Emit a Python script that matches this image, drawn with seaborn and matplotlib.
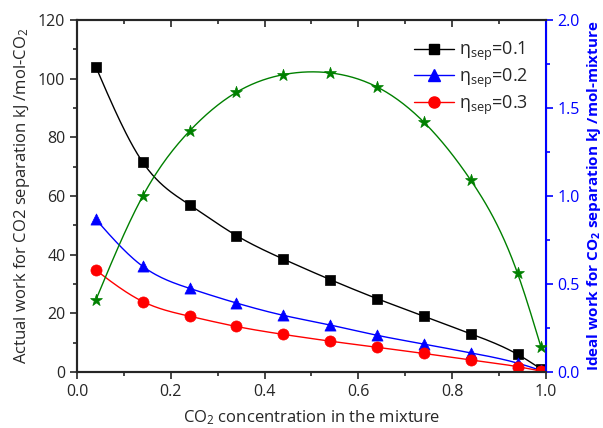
import numpy as np
import matplotlib
matplotlib.use("Agg")
import matplotlib.pyplot as plt
from matplotlib.lines import Line2D
from matplotlib.ticker import MultipleLocator, FormatStrFormatter
import seaborn as sns

# CO2 mole fraction in the mixture
co2_frac = [0.04, 0.14, 0.24, 0.34, 0.44, 0.54, 0.64, 0.74, 0.84, 0.94, 0.99]

# actual work (kJ/mol-CO2), left axis
work_01 = [104.0, 71.5, 57.0, 46.5, 38.5, 31.5, 25.0, 19.0, 13.0, 6.0, 1.0]
work_02 = [52.0, 36.0, 28.5, 23.5, 19.3, 16.0, 12.5, 9.5, 6.5, 3.0, 0.5]
work_03 = [34.7, 24.0, 19.0, 15.5, 12.8, 10.5, 8.4, 6.3, 4.1, 1.8, 0.3]

# ideal work (kJ/mol-mixture), right axis
ideal_work = [0.41, 1.0, 1.37, 1.59, 1.69, 1.70, 1.62, 1.42, 1.09, 0.56, 0.14]

labels = [r"$\eta_{sep}$=0.1", r"$\eta_{sep}$=0.2", r"$\eta_{sep}$=0.3"]


def smooth(x, y, n=25):
    # natural cubic spline through the points, only for the drawn connecting line
    x = np.asarray(x, float)
    y = np.asarray(y, float)
    npts = len(x)
    h = np.diff(x)
    A = np.zeros((npts, npts))
    b = np.zeros(npts)
    A[0, 0] = A[-1, -1] = 1
    for i in range(1, npts - 1):
        A[i, i - 1] = h[i - 1]
        A[i, i] = 2 * (h[i - 1] + h[i])
        A[i, i + 1] = h[i]
        b[i] = 6 * ((y[i + 1] - y[i]) / h[i] - (y[i] - y[i - 1]) / h[i - 1])
    M = np.linalg.solve(A, b)
    xs, ys = [], []
    for k in range(npts - 1):
        xx = np.linspace(x[k], x[k + 1], n, endpoint=False)
        a = x[k + 1] - xx
        c = xx - x[k]
        yy = (M[k] * a ** 3 + M[k + 1] * c ** 3) / (6 * h[k]) \
            + (y[k] / h[k] - M[k] * h[k] / 6) * a + (y[k + 1] / h[k] - M[k + 1] * h[k] / 6) * c
        xs.extend(xx)
        ys.extend(yy)
    xs.append(x[-1])
    ys.append(y[-1])
    return np.array(xs), np.array(ys)


sns.set_style("ticks")
plt.rcParams["font.family"] = ["Open Sans", "DejaVu Sans"]
plt.rcParams["mathtext.fontset"] = "dejavusans"
plt.rcParams["mathtext.default"] = "regular"

fig = plt.figure(figsize=(6.03, 4.28), dpi=100)
ax = fig.add_axes([0.128, 0.131, 0.777, 0.822])
ax2 = ax.twinx()

series = [(work_01, "black", "s", 7), (work_02, "blue", "^", 8), (work_03, "red", "o", 8)]
handles = []
for (vals, col, mk, ms), lab in zip(series, labels):
    sx, sy = smooth(co2_frac, vals)
    sns.lineplot(x=sx, y=sy, ax=ax, color=col, lw=1, sort=False, estimator=None)
    sns.scatterplot(x=co2_frac, y=vals, ax=ax, color=col, marker=mk, s=ms ** 2,
                    edgecolor=col, linewidth=0.5, zorder=3)
    handles.append(Line2D([], [], color=col, marker=mk, ms=ms, lw=1))

gx, gy = smooth(co2_frac, ideal_work)
sns.lineplot(x=gx, y=gy, ax=ax2, color="green", lw=1, sort=False, estimator=None)
sns.scatterplot(x=co2_frac, y=ideal_work, ax=ax2, color="green", marker="*", s=80,
                edgecolor="green", linewidth=0.5, zorder=3)

ax.set_xlim(0, 1.0)
ax.set_ylim(0, 120)
ax2.set_ylim(0, 2.0)

ax.xaxis.set_major_locator(MultipleLocator(0.2))
ax.xaxis.set_minor_locator(MultipleLocator(0.1))
ax.xaxis.set_major_formatter(FormatStrFormatter("%.1f"))
ax.yaxis.set_major_locator(MultipleLocator(20))
ax.yaxis.set_minor_locator(MultipleLocator(10))
ax2.yaxis.set_major_locator(MultipleLocator(0.5))
ax2.yaxis.set_minor_locator(MultipleLocator(0.25))
ax2.yaxis.set_major_formatter(FormatStrFormatter("%.1f"))

ax.tick_params(axis="both", which="major", direction="out", length=5, width=1.2, labelsize=11.5)
ax.tick_params(axis="both", which="minor", direction="out", length=3, width=1.2)
ax.tick_params(axis="x", which="both", top=True)
ax2.tick_params(axis="y", which="major", direction="out", length=5, width=1.2, labelsize=11.5,
                colors="blue")
ax2.tick_params(axis="y", which="minor", direction="out", length=3, width=1.2, colors="blue")

# top ticks point inward
for t in ax.xaxis.get_major_ticks() + ax.xaxis.get_minor_ticks():
    t.tick2line.set_marker(matplotlib.lines.TICKDOWN)

for sp in ["left", "bottom", "top"]:
    ax.spines[sp].set_linewidth(1.5)
    ax2.spines[sp].set_linewidth(1.5)
ax2.spines["right"].set_linewidth(1.5)
ax2.spines["right"].set_color("blue")

ax.set_xlabel(r"CO$_2$ concentration in the mixture", fontsize=12, labelpad=6)
ax.set_ylabel(r"Actual work for CO2 separation kJ /mol-CO$_2$", fontsize=12, labelpad=4)
ax2.set_ylabel(r"Ideal work for CO$_2$ separation kJ /mol-mixture", fontsize=11,
               color="blue", fontweight="bold", labelpad=4)

ax.legend(handles=handles, labels=labels, loc="upper right", bbox_to_anchor=(0.99, 0.98),
          frameon=False, fontsize=13, handlelength=2.2, handletextpad=0.3, labelspacing=0.2,
          borderaxespad=0.3)

fig.savefig("out.png", dpi=100)
